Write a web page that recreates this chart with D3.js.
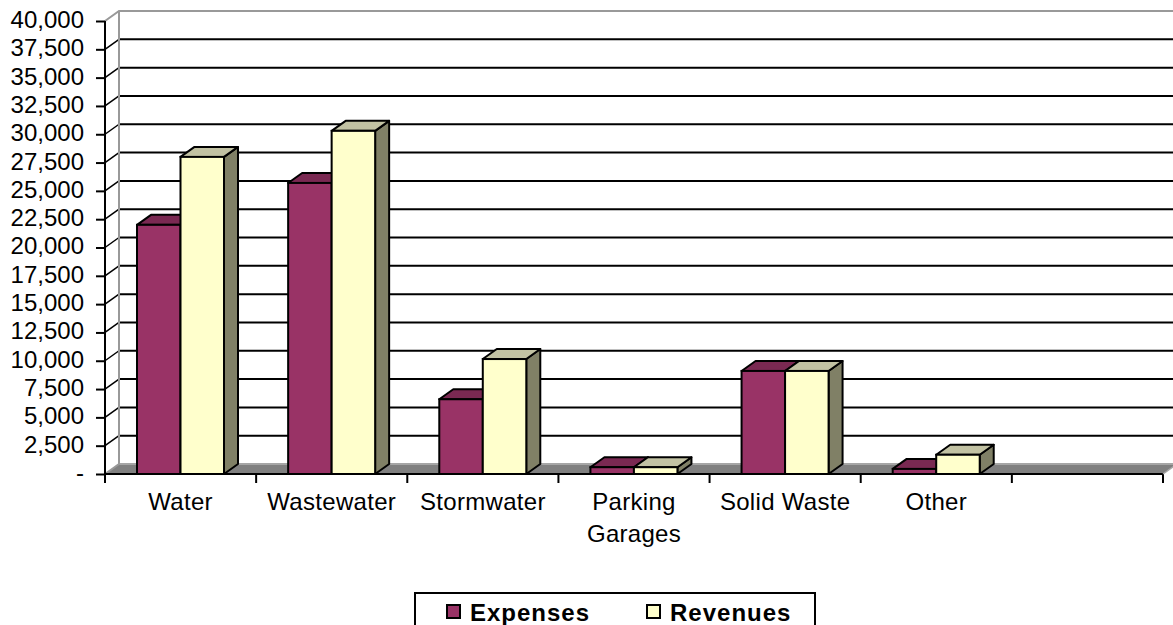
<!DOCTYPE html>
<html>
<head>
<meta charset="utf-8">
<script src="https://cdn.jsdelivr.net/npm/d3@7"></script>
<style>
  html, body { margin: 0; padding: 0; background: #fff; overflow: hidden; }
  text { font-family: "Liberation Sans", Arial, sans-serif; fill: #000; }
</style>
</head>
<body>
<div id="chart-area"></div>
<script>
// values
const categories = ["Water", "Wastewater", "Stormwater", "Parking Garages", "Solid Waste", "Other", ""]
const seriesNames = ["Expenses", "Revenues"]
const expenses = [22000, 25700, 6600, 600, 9100, 450, null]
const revenues = [28000, 30300, 10150, 600, 9100, 1700, null]
const yTicks = [0, 2500, 5000, 7500, 10000, 12500, 15000, 17500, 20000, 22500, 25000, 27500, 30000, 32500, 35000, 37500, 40000]

const colors = { Expenses: "#993366", Revenues: "#ffffcc" }
const topColors = { Expenses: "#7a2952", Revenues: "#c2c2a3" }
const sideColors = { Expenses: "#732650", Revenues: "#808066" }

const width = 1173, height = 625
// depth of the 3d box
const dx = 14, dy = -10

const svg = d3.select("#chart-area").append("svg")
    .attr("width", width)
    .attr("height", height)
    .style("display", "block")

const x = d3.scaleBand().domain(d3.range(categories.length)).range([105, 1163])
const xInner = d3.scaleBand().domain(seriesNames).range([32, 119])
const y = d3.scaleLinear().domain([0, 40000]).range([474, 21])

// floor
svg.append("polygon")
    .attr("points", [[105, y(0)], [105 + dx, y(0) + dy], [1163 + dx, y(0) + dy], [1163, y(0)]].join(" "))
    .attr("fill", "#808080")
svg.append("line")
    .attr("x1", 105 + dx).attr("x2", 1163 + dx)
    .attr("y1", y(0) + dy).attr("y2", y(0) + dy)
    .attr("stroke", "#a6a6a6").attr("stroke-width", 2)

// gridlines on the back wall, and the diagonal on the side wall
const gridTicks = yTicks.filter(d => d > 0 && d < 40000)
svg.selectAll(".grid").data(gridTicks).join("line")
    .attr("class", "grid")
    .attr("x1", 105 + dx).attr("x2", 1163 + dx)
    .attr("y1", d => y(d) + dy).attr("y2", d => y(d) + dy)
    .attr("stroke", "#000").attr("stroke-width", 2)
svg.selectAll(".diag").data(gridTicks).join("line")
    .attr("class", "diag")
    .attr("x1", 105).attr("x2", 105 + dx)
    .attr("y1", d => y(d)).attr("y2", d => y(d) + dy)
    .attr("stroke", "#000").attr("stroke-width", 1.5)

// wall edges in grey
svg.append("path")
    .attr("d", `M${105},${y(40000)} L${105 + dx},${y(40000) + dy} L${1163 + dx},${y(40000) + dy} M${105 + dx},${y(40000) + dy} L${105 + dx},${y(0) + dy} L${105},${y(0)}`)
    .attr("fill", "none")
    .attr("stroke", "#999999").attr("stroke-width", 2)

// bars
const barData = []
categories.forEach((c, i) => {
    if (expenses[i] !== null) barData.push({ i: i, s: "Expenses", v: expenses[i] })
    if (revenues[i] !== null) barData.push({ i: i, s: "Revenues", v: revenues[i] })
})

const bar = svg.selectAll(".bar").data(barData).join("g").attr("class", "bar")
bar.append("polygon")
    .attr("fill", d => sideColors[d.s])
    .attr("stroke", "#000").attr("stroke-width", 2).attr("stroke-linejoin", "round")
    .attr("points", d => {
        const r = x(d.i) + xInner(d.s) + xInner.bandwidth()
        return [[r, y(0)], [r + dx, y(0) + dy], [r + dx, y(d.v) + dy], [r, y(d.v)]].join(" ")
    })
bar.append("polygon")
    .attr("fill", d => topColors[d.s])
    .attr("stroke", "#000").attr("stroke-width", 2).attr("stroke-linejoin", "round")
    .attr("points", d => {
        const l = x(d.i) + xInner(d.s), r = l + xInner.bandwidth()
        return [[l, y(d.v)], [l + dx, y(d.v) + dy], [r + dx, y(d.v) + dy], [r, y(d.v)]].join(" ")
    })
bar.append("rect")
    .attr("x", d => x(d.i) + xInner(d.s))
    .attr("y", d => y(d.v))
    .attr("width", xInner.bandwidth())
    .attr("height", d => y(0) - y(d.v))
    .attr("fill", d => colors[d.s])
    .attr("stroke", "#000").attr("stroke-width", 2)

// y axis
const yAxis = d3.axisLeft(y)
    .tickValues(yTicks)
    .tickSize(9)
    .tickPadding(12)
    .tickFormat(d => d === 0 ? "-" : d3.format(",")(d))
const yG = svg.append("g").attr("transform", "translate(105,0)").call(yAxis)
yG.selectAll("text").style("font-size", "24px").attr("dy", "0.27em")
yG.selectAll("line").attr("stroke", "#000").attr("stroke-width", 2)
yG.select(".domain").attr("stroke", "#000").attr("stroke-width", 2).attr("d", `M0,${y(40000)}V${y(0)}`)

// x axis: ticks sit between the categories
const tickXs = d3.range(categories.length + 1).map(i => i === categories.length ? 1163 : x(i))
svg.append("line")
    .attr("x1", 105).attr("x2", 1163)
    .attr("y1", y(0)).attr("y2", y(0))
    .attr("stroke", "#000").attr("stroke-width", 2)
svg.selectAll(".xtick").data(tickXs).join("line")
    .attr("class", "xtick")
    .attr("x1", d => d).attr("x2", d => d)
    .attr("y1", y(0)).attr("y2", y(0) + 9)
    .attr("stroke", "#000").attr("stroke-width", 2)
svg.append("line")
    .attr("x1", 1163).attr("x2", 1163 + dx)
    .attr("y1", y(0)).attr("y2", y(0) + dy)
    .attr("stroke", "#a6a6a6").attr("stroke-width", 1.5)

const labels = svg.selectAll(".xlabel").data(categories).join("text")
    .attr("class", "xlabel")
    .attr("text-anchor", "middle")
    .style("font-size", "24px")
    .style("letter-spacing", "0.3px")
labels.each(function(d, i) {
    const words = d === "Parking Garages" ? d.split(" ") : [d]
    d3.select(this).selectAll("tspan").data(words).join("tspan")
        .attr("x", x(i) + x.bandwidth() / 2)
        .attr("y", (w, j) => 510 + j * 32)
        .text(w => w)
})

// legend
svg.append("rect")
    .attr("x", 415).attr("y", 593)
    .attr("width", 400).attr("height", 40)
    .attr("fill", "#fff").attr("stroke", "#000").attr("stroke-width", 2)
const legendX = d3.scaleOrdinal().domain(seriesNames).range([447, 647])
const legend = svg.selectAll(".legend").data(seriesNames).join("g").attr("class", "legend")
legend.append("rect")
    .attr("x", d => legendX(d)).attr("y", 605)
    .attr("width", 13).attr("height", 13)
    .attr("fill", d => colors[d])
    .attr("stroke", "#000").attr("stroke-width", 2)
legend.append("text")
    .attr("x", d => legendX(d) + 23).attr("y", 621)
    .style("font-size", "24px").style("font-weight", "bold").style("letter-spacing", "1px")
    .text(d => d)
</script>
</body>
</html>
